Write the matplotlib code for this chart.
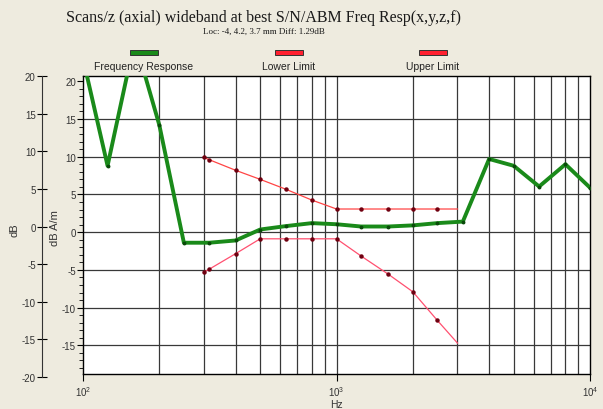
import matplotlib
matplotlib.use("Agg")
import matplotlib.pyplot as plt
from matplotlib.patches import Rectangle
import numpy as np

plt.rcParams["axes.unicode_minus"] = False

# 1/3 octave frequencies and response (dB A/m)
freq = [100, 125, 160, 200, 250, 315, 400, 500, 630, 800, 1000, 1250,
        1600, 2000, 2500, 3150, 4000, 5000, 6300, 8000, 10000]
resp = [23.0, 8.8, 25.5, 14.2, -1.4, -1.4, -1.1, 0.35, 0.8, 1.2, 1.05, 0.75,
        0.75, 0.9, 1.2, 1.4, 9.7, 8.8, 6.05, 9.0, 5.9]

lim_freq = [300, 315, 400, 500, 630, 800, 1000, 1250, 1600, 2000, 2500, 3000]
upper = [9.9, 9.6, 8.2, 7.0, 5.7, 4.25, 3.07, 3.07, 3.07, 3.07, 3.07, 3.07]
lower = [-5.3, -4.9, -2.85, -0.88, -0.88, -0.88, -0.88, -3.16, -5.57, -7.9, -11.7, -14.7]

bg = "#eeebdf"
W, H = 603, 410
fig = plt.figure(figsize=(W / 100, H / 100), dpi=100, facecolor=bg)

def fx(px):
    return px / W

def fy(py):
    return 1 - py / H

left, right, top, bot = 83, 590, 77, 375
ax = fig.add_axes([fx(left), fy(bot), (right - left) / W, (bot - top) / H])
ax.set_facecolor("white")
ax.set_xscale("log")
ax.set_xlim(100, 10000)
ax.set_ylim(-18.8, 20.7)

# grid
for f in [100 * k for k in range(2, 10)] + [1000 * k for k in range(1, 10)]:
    ax.axvline(f, color="#383838", lw=0.9, zorder=1)
for v in range(-15, 20, 5):
    ax.axhline(v, color="#383838", lw=0.9, zorder=1)

ax.plot(freq, resp, color="#1a8a1a", lw=2.8, zorder=3,
        marker="o", ms=1.8, mfc="#0a4a0a", mec="#0a4a0a")
ax.plot(lim_freq, upper, color="#ff4545", lw=0.9, zorder=4,
        marker="o", ms=2.2, mfc="#700010", mec="#700010", markevery=slice(0, -1))
ax.plot(lim_freq, lower, color="#ff5070", lw=0.9, zorder=4,
        marker="o", ms=2.2, mfc="#700010", mec="#700010", markevery=slice(0, -1))

for s in ax.spines.values():
    s.set_color("black")
    s.set_linewidth(1.0)

ax.set_yticks(range(-15, 21, 5))
ax.set_yticks(range(-18, 21), minor=True)
ax.tick_params(axis="y", which="major", direction="out", length=4, labelsize=7,
               labelcolor="#333333", pad=1)
ax.tick_params(axis="y", which="minor", direction="out", length=3)
ax.set_xticks([100, 1000, 10000])
ax.set_xticks([], minor=True)
ax.tick_params(axis="x", which="major", direction="out", length=5, labelsize=7,
               labelcolor="#333333", pad=2)
for lab in ax.get_yticklabels() + ax.get_xticklabels():
    lab.set_family("Liberation Sans")
ax.set_xlabel("Hz", fontsize=7.5, family="Liberation Sans", color="#333333", labelpad=1)
fig.text(fx(55), fy(228), "dB A/m", rotation=90, fontsize=8, family="Liberation Sans",
         color="#333333", ha="center", va="center")

# outer dB axis
ax2 = fig.add_axes([fx(42), fy(bot + 3), 0.001, (bot + 3 - top) / H])
ax2.set_facecolor("none")
for k in ["top", "right", "bottom"]:
    ax2.spines[k].set_visible(False)
ax2.spines["left"].set_color("#333333")
ax2.set_ylim(-20, 20)
ax2.set_xticks([])
ax2.set_yticks(range(-20, 21, 5))
ax2.tick_params(axis="y", direction="inout", length=7, labelsize=7,
                labelcolor="#333333", pad=1)
for lab in ax2.get_yticklabels():
    lab.set_family("Liberation Sans")
fig.text(fx(14), fy(230), "dB", rotation=90, fontsize=8, family="Liberation Sans",
         color="#333333", ha="center", va="center")

# titles
fig.text(fx(263), fy(18), "Scans/z (axial) wideband at best S/N/ABM Freq Resp(x,y,z,f)",
         fontsize=11.5, family="Liberation Serif", ha="center", va="center", color="#1a1a1a")
fig.text(fx(264), fy(32), "Loc: -4, 4.2, 3.7 mm Diff: 1.29dB",
         fontsize=6.5, family="Liberation Serif", ha="center", va="center", color="#1a1a1a")

# legend
legend_items = [("Frequency Response", "#1a8a1a", 144),
                ("Lower Limit", "#ff2030", 289),
                ("Upper Limit", "#ff2030", 433)]
for name, col, cx in legend_items:
    fig.add_artist(Rectangle((fx(cx - 14), fy(56)), 28 / W, 5 / H,
                             transform=fig.transFigure, facecolor=col,
                             edgecolor="#333333", lw=0.7))
    fig.text(fx(cx), fy(67), name, fontsize=7.5, family="Liberation Sans",
             ha="center", va="center", color="#222222")

fig.savefig("out.png", dpi=100, facecolor=bg)
